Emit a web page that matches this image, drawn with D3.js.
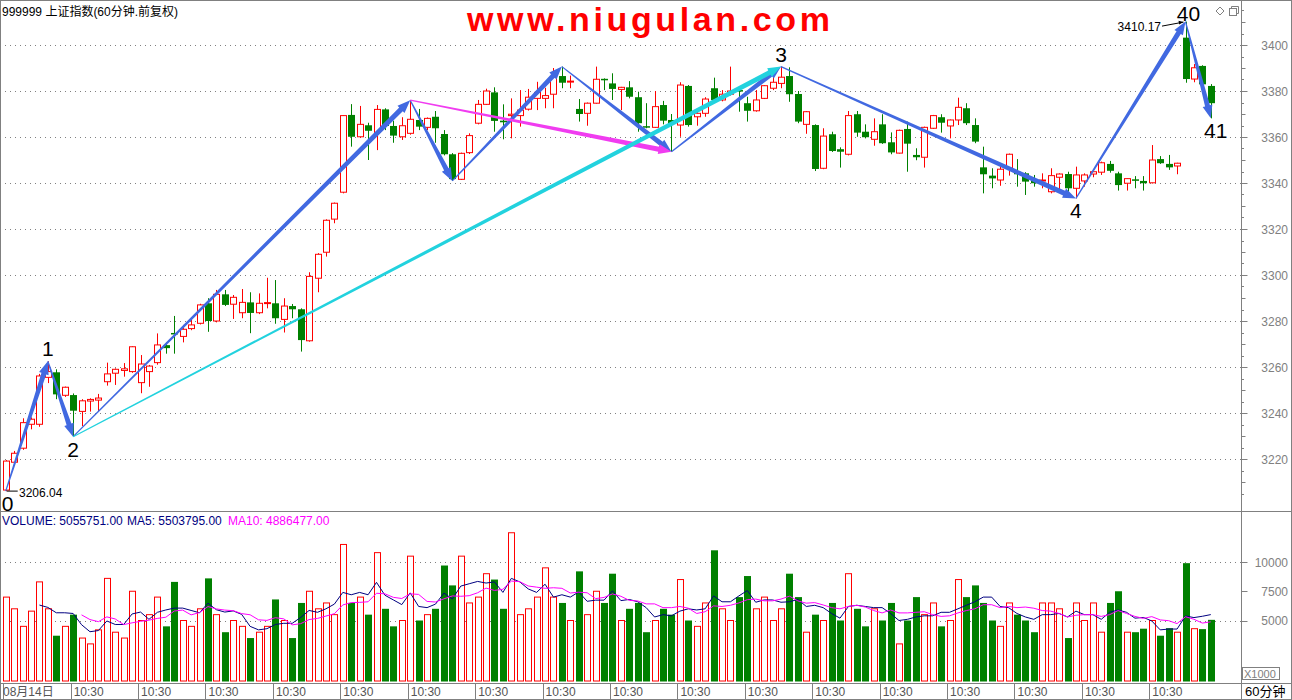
<!DOCTYPE html>
<html><head><meta charset="utf-8">
<script src="https://cdn.jsdelivr.net/npm/d3@7"></script>
<style>
body{margin:0;background:#fff}
svg{display:block}
text{font-family:"Liberation Sans",Arial,"Noto Sans CJK SC",sans-serif}
</style></head>
<body><svg id="c" width="1292" height="700"></svg>
<script>
// ---------- DATA ----------
const opens=[3206.5,3218.6,3224.7,3235.1,3235.1,3255.5,3257.7,3247.7,3247.8,3240.7,
3245.2,3245.6,3253.6,3257.3,3258.5,3258,3253.2,3258,3261.9,3269.5,
3274.8,3273.3,3276.7,3279,3287.7,3280,3291.6,3287.3,3283.6,3288.1,
3283.6,3287.6,3287.7,3280.7,3286.5,3285.1,3271.4,3298.6,3309.9,3324.3,
3336,3369.6,3360.1,3365.1,3362,3372,3364.8,3360.1,3361.6,3367.4,
3364.2,3368.8,3361.3,3352.5,3341.6,3353.2,3366,3374.2,3379.4,3367.1,
3369.3,3369.3,3372.1,3376.8,3376.8,3378.6,3386.5,3383.9,3372.2,3370.3,
3374.7,3385.3,3383.3,3380.7,3381.6,3377.3,3364.7,3364.2,3373.9,3367.4,
3365.2,3382.2,3368.8,3370.3,3381.2,3376.1,3378.6,3380.4,3374.7,3371.4,
3376.8,3381.2,3383.3,3386.5,3378.7,3365.5,3365.2,3346.4,3361.2,3354.7,
3352.5,3369.9,3362.3,3359,3365.5,3357.7,3353,3363.5,3352.2,3351.2,
3363.8,3368.6,3364.8,3367.4,3372.5,3365.2,3346.8,3343.2,3341.3,3346.4,
3344.9,3344.2,3341.3,3340.9,3336.2,3342.5,3343.9,3337.7,3340.9,3343.9,
3344.7,3348.3,3344.2,3339.9,3341.6,3340.9,3340.1,3350.4,3348.3,3347.4,
3403.2,3385.2,3390.9,3382.2];
const highs=[3219.5,3223.5,3237.7,3238.1,3257,3262.5,3259,3251.5,3248.5,3246,
3246.4,3248.3,3261.9,3259.4,3261.7,3269,3265.2,3260.9,3274.6,3270.7,
3282.2,3278.3,3281.6,3287.5,3289.9,3293.5,3293.5,3291.3,3293.9,3292.5,
3292,3298.8,3297.8,3289.9,3287.4,3285.5,3301.2,3309.5,3324.2,3331.5,
3369.5,3374.3,3373.5,3366.2,3373.9,3372.5,3367.1,3368.6,3376,3372.2,
3368.5,3371.3,3363,3353,3353.2,3361.6,3376.1,3381,3381.6,3374.2,
3376.8,3380.4,3380.9,3384,3381.4,3390,3390.6,3386.7,3376.5,3375,
3390.6,3385.5,3387.7,3381.8,3384.3,3379.7,3374.7,3380,3375.7,3370,
3383.8,3382.6,3371.7,3377.3,3385.8,3380.4,3390.6,3381.2,3377.5,3380.4,
3382.5,3386.5,3390.6,3390.3,3380,3371.3,3365.5,3363.8,3362.3,3355.5,
3371.3,3371.3,3365.5,3368.1,3369.9,3362,3363.2,3366.7,3355.1,3364.5,
3369.6,3369.9,3367.6,3377.1,3374.7,3368.1,3355.8,3346.4,3347.8,3352.8,
3350.4,3344.7,3343.5,3344.2,3346.4,3344.2,3344.9,3347.1,3344.2,3346,
3349.3,3349.6,3344.9,3342,3343,3343,3356.5,3351.7,3352.2,3348.8,
3410.17,3391.7,3391.2,3383];
const lows=[3206.04,3218,3224,3232.9,3234,3253,3246,3247,3229.7,3234.3,
3240.6,3240.6,3251.9,3252.2,3255.8,3257.5,3248.6,3251.4,3261,3265.8,
3265.8,3270.7,3276,3278.5,3275.3,3279.4,3286.5,3280.9,3281.2,3274.7,
3283,3285.5,3278.8,3275,3281.2,3266.7,3271,3292.5,3308,3322.5,
3335.5,3355.8,3359.7,3350,3354.3,3363,3357.5,3358.7,3361,3363,
3363,3357.5,3352,3340.9,3341.3,3352.6,3365.5,3374,3362.3,3359,
3359.4,3364.5,3371.5,3371.7,3372.5,3372.5,3381.2,3381.2,3366.7,3364.9,
3374.5,3380.4,3376.1,3371.7,3376.8,3362.3,3363.8,3364,3365.5,3353.6,
3360.1,3364.5,3364.9,3368.8,3375,3375.5,3378,3371,3366.7,3371,
3376.5,3380.4,3381.2,3375.3,3366,3361.4,3345.2,3346,3353.5,3346.7,
3352,3360.1,3359.4,3356.2,3357,3352.5,3352.8,3344.9,3349.9,3346.7,
3363.5,3361.9,3359.4,3365.2,3365.2,3357.3,3335.5,3337.7,3338.8,3343.2,
3338.4,3334.8,3338.4,3337.7,3335.5,3336.7,3334.5,3333.3,3338.4,3342.5,
3343.5,3344.5,3336.7,3336.7,3337.7,3336.7,3339.8,3348.3,3345.7,3343.8,
3383.6,3383.8,3382.5,3368.1];
const closes=[3219.1,3222.5,3235.8,3237.3,3256.1,3258,3248.1,3251.2,3241,3245.3,
3245.9,3246.5,3257,3259,3259.2,3268.8,3261.3,3260.4,3269.6,3268.2,
3274.2,3276.4,3278.3,3287,3280,3291.6,3287,3290.3,3288.1,3283.5,
3287.7,3288,3281.2,3286.5,3285.1,3271.7,3299.4,3309,3323.8,3331.2,
3369.3,3360.1,3365.5,3362.7,3372,3364.8,3360.6,3364.9,3367.7,3364.5,
3368.1,3363.8,3352.5,3341.7,3352.9,3360.6,3374.2,3380,3367,3366.4,
3369.9,3371.7,3377.3,3379.4,3378,3386,3383.6,3384.3,3370,3374.7,
3385.1,3384.9,3380.9,3381.6,3377.5,3366,3364.3,3373.2,3367.1,3365.7,
3382.6,3365.2,3370.3,3376.5,3376.1,3378.6,3380,3379.8,3371.4,3376.1,
3382.3,3383.8,3386,3378.6,3366.7,3371,3346.1,3360.4,3353.9,3353.6,
3369.3,3361.9,3359.9,3362.3,3357.3,3353.3,3362.9,3357.1,3351.2,3364.2,
3369.3,3366.2,3367.4,3372.9,3366,3358,3343.8,3342,3346,3352.5,
3343.8,3340.6,3339.9,3341.3,3343.2,3343.9,3337.7,3343.5,3343.5,3344.9,
3348.8,3345.3,3339.1,3341.9,3341,3339.9,3350,3348.6,3346.8,3348.6,
3385.2,3390.1,3382.9,3374.7];
// volume, in thousands of lots (X1000)
const volumes=[7000,6000,4500,5800,8300,6000,3700,4500,5500,3500,
3000,4200,8600,4000,3500,7500,5000,5500,7000,4500,
8300,5000,4500,6000,8600,5500,4000,5000,4500,3500,
4000,4500,6800,5000,3500,6500,7500,6000,6500,5500,
11500,6500,7000,5500,10800,6000,4500,5000,10500,5000,
5500,6000,9700,8000,10500,6500,7000,9000,8500,6000,
12500,5500,6000,7000,9500,7000,6500,5000,9200,5500,
7500,6500,9000,5000,6000,6500,4000,5000,6000,5500,
8500,5000,4500,6500,11000,6000,5000,7000,8800,6000,
7000,5000,6000,9000,7000,4000,5500,5000,6500,5000,
9000,6000,4500,6000,5000,6500,3000,5000,7000,5500,
6500,4500,5000,8500,7000,8000,6500,5000,4500,6500,
5500,5000,4000,6500,6500,6000,3500,6500,5000,6500,
4000,6500,7500,4000,4000,4300,5000,3700,4346,4000,
9900,4300,4263,5056];
const timeLabels=["08月14日","10:30","10:30","10:30","10:30","10:30","10:30","10:30","10:30",
"10:30","10:30","10:30","10:30","10:30","10:30","10:30","10:30","10:30"];
const priceTicks=[3220,3240,3260,3280,3300,3320,3340,3360,3380,3400];
const volTicks=[5000,7500,10000];
const volGrid=[5000,10000];
// wave (zigzag) pivots: bar index and price
const waveIdx=[0,5,8,48,53,66,79,92,127,140,143];
const waveVal=[3206.04,3262.5,3229.7,3376,3340.9,3390.6,3353.6,3390.6,3333.3,3410.17,3368.1];
// arrows: [fromPivot, toPivot, colour key]
const waveArrows=[[0,1,"b"],[1,2,"b"],[2,3,"b"],[3,4,"b"],[4,5,"b"],[5,6,"b"],[6,7,"b"],
[3,6,"m"],[2,7,"c"],[7,8,"b"],[8,9,"b"],[9,10,"b"]];
const waveLabels=["0","1","2","3","4","40","41"];
const waveLabelPivot=[0,1,2,7,8,9,10];
const waveLabelDir=[1,-1,1,-1,1,-1,1]; // -1 above, 1 below

// ---------- SCALES ----------
const svg=d3.select("#c");
const W=1292,H=700,axisX=1241.5,panelSplit=511.5,timeTop=683.5;
const n=opens.length;
const xb=d3.scaleBand().domain(d3.range(n)).range([1.5,1215]);
const cx=i=>xb(i)+xb.bandwidth()/2;
const y=d3.scaleLinear().domain([3200,3420]).range([505,-1]);
const yv=d3.scaleLinear().domain([0,10000]).range([679,562]);
const RED="#ff0000",GREEN="#008000",GRAY="#808080";
const colors={b:"#4169e1",m:"#f03cf0",c:"#22d2de"};

// ---------- FRAME ----------
svg.append("rect").attr("x",0.5).attr("y",0.5).attr("width",W-1).attr("height",H-1)
 .attr("fill","#fff").attr("stroke",GRAY);
svg.append("line").attr("x1",axisX).attr("x2",axisX).attr("y1",0).attr("y2",H).attr("stroke",GRAY);
svg.append("line").attr("x1",0).attr("x2",W).attr("y1",panelSplit).attr("y2",panelSplit).attr("stroke",GRAY);
svg.append("line").attr("x1",0).attr("x2",W).attr("y1",timeTop).attr("y2",timeTop).attr("stroke",GRAY);

// price grid + axis
svg.selectAll(".pg").data(priceTicks).join("line")
 .attr("x1",0).attr("x2",axisX).attr("y1",d=>Math.round(y(d))+0.5).attr("y2",d=>Math.round(y(d))+0.5)
 .attr("stroke",GRAY).attr("stroke-dasharray","1,4");
svg.selectAll(".pt").data(d3.range(3205,3420,5)).join("line")
 .attr("x1",axisX).attr("x2",d=>axisX+(d%20===0?6:(d%10===0?4:2.5)))
 .attr("y1",d=>Math.round(y(d))+0.5).attr("y2",d=>Math.round(y(d))+0.5).attr("stroke",GRAY);
svg.selectAll(".pl").data(priceTicks).join("text")
 .attr("x",1288).attr("y",d=>y(d)+4.5).attr("text-anchor","end").attr("font-size",12).attr("fill",GRAY).text(d=>d);

// volume grid + axis
svg.selectAll(".vg").data(volGrid).join("line")
 .attr("x1",0).attr("x2",axisX).attr("y1",d=>Math.round(yv(d))+0.5).attr("y2",d=>Math.round(yv(d))+0.5)
 .attr("stroke",GRAY).attr("stroke-dasharray","1,4");
svg.selectAll(".vt").data(volTicks).join("line")
 .attr("x1",axisX).attr("x2",axisX+6).attr("y1",d=>Math.round(yv(d))+0.5).attr("y2",d=>Math.round(yv(d))+0.5).attr("stroke",GRAY);
svg.selectAll(".vl").data(volTicks).join("text")
 .attr("x",1288).attr("y",d=>yv(d)+4.5).attr("text-anchor","end").attr("font-size",12).attr("fill",GRAY).text(d=>d);
svg.append("rect").attr("x",1242.5).attr("y",667.5).attr("width",37).attr("height",12).attr("fill","none").attr("stroke",GRAY);
svg.append("text").attr("x",1244).attr("y",677.5).attr("font-size",11).attr("fill",GRAY).text("X1000");
svg.append("text").attr("x",1245).attr("y",696).attr("font-size",13).attr("fill","#000").text("60分钟");

// time axis
const labelIdx=timeLabels.map((d,k)=>k*8);
svg.selectAll(".td").data(labelIdx).join("line")
 .attr("x1",d=>Math.round(cx(d)-2.5)+0.5).attr("x2",d=>Math.round(cx(d)-2.5)+0.5)
 .attr("y1",timeTop).attr("y2",H).attr("stroke",GRAY);
svg.selectAll(".tl").data(timeLabels).join("text")
 .attr("x",(d,k)=>k===0?3:cx(labelIdx[k])+0.5).attr("y",696).attr("font-size",12).attr("fill","#555").text(d=>d);

// ---------- CANDLES ----------
const bw=6;
const g=svg.append("g");
d3.range(n).forEach(i=>{
  const up=closes[i]>=opens[i];
  const x=Math.round(cx(i));
  const top=y(Math.max(opens[i],closes[i])), bot=y(Math.min(opens[i],closes[i]));
  const col=up?RED:GREEN;
  g.append("line").attr("x1",x+0.5).attr("x2",x+0.5).attr("y1",y(highs[i])).attr("y2",y(lows[i]))
   .attr("stroke",col);
  if(up){
    g.append("rect").attr("x",x-bw/2+0.5).attr("y",top).attr("width",bw).attr("height",Math.max(1,bot-top))
     .attr("fill","#fff").attr("stroke",RED);
  } else {
    g.append("rect").attr("x",x-bw/2).attr("y",top).attr("width",bw+1).attr("height",Math.max(1.5,bot-top))
     .attr("fill",GREEN);
  }
});

// ---------- VOLUME ----------
const vg=svg.append("g");
d3.range(n).forEach(i=>{
  const up=closes[i]>=opens[i];
  const x=Math.round(cx(i));
  const t=yv(volumes[i]), b=yv(0)+2;
  if(up) vg.append("rect").attr("x",x-3+0.5).attr("y",t).attr("width",6).attr("height",b-t)
     .attr("fill","#fff").attr("stroke",RED);
  else vg.append("rect").attr("x",x-3).attr("y",t).attr("width",7).attr("height",b-t+0.5).attr("fill",GREEN);
});
const ma=(k)=>d3.range(k-1,n).map(i=>[cx(i),yv(d3.mean(volumes.slice(i-k+1,i+1)))]);
svg.append("path").attr("d",d3.line()(ma(5))).attr("fill","none").attr("stroke","#000080").attr("stroke-width",1);
svg.append("path").attr("d",d3.line()(ma(10))).attr("fill","none").attr("stroke","#ff00ff").attr("stroke-width",1);

svg.append("text").attr("x",2).attr("y",525).attr("font-size",12).attr("fill","#000080").text("VOLUME: 5055751.00");
svg.append("text").attr("x",127).attr("y",525).attr("font-size",12).attr("fill","#000080").text("MA5: 5503795.00");
svg.append("text").attr("x",228).attr("y",525).attr("font-size",12).attr("fill","#ff00ff").text("MA10: 4886477.00");

// ---------- WAVE ARROWS ----------
function arrowPoly(x1,y1,x2,y2,w0,w1,hl,hw){
  const dx=x2-x1,dy=y2-y1,L=Math.hypot(dx,dy),ux=dx/L,uy=dy/L,nx=-uy,ny=ux;
  const bx=x2-ux*hl,by=y2-uy*hl;
  return [[x1+nx*w0/2,y1+ny*w0/2],[bx+nx*w1/2,by+ny*w1/2],[bx+nx*hw/2,by+ny*hw/2],[x2,y2],
          [bx-nx*hw/2,by-ny*hw/2],[bx-nx*w1/2,by-ny*w1/2],[x1-nx*w0/2,y1-ny*w0/2]];
}
const ag=svg.append("g");
waveArrows.forEach(([a,b,c])=>{
  const p=arrowPoly(cx(waveIdx[a]),y(waveVal[a]),cx(waveIdx[b]),y(waveVal[b]),1.2,5,13,10);
  ag.append("path").attr("d","M"+p.map(q=>q.join(",")).join("L")+"Z").attr("fill",colors[c]);
});
// wave labels
svg.selectAll(".wl").data(waveLabels).join("text")
 .attr("x",(d,k)=>cx(waveIdx[waveLabelPivot[k]])+(k===0?2:(k===6?5:(k===5?3:0))))
 .attr("y",(d,k)=>{const v=y(waveVal[waveLabelPivot[k]]);
    if(k===5) return v-1;
    return waveLabelDir[k]<0?v-5:v+20;})
 .attr("text-anchor","middle").attr("font-size",21).attr("fill","#000").text(d=>d);

// price annotations
const lowY=y(waveVal[0]);
svg.append("line").attr("x1",cx(0)+1).attr("x2",cx(0)+12).attr("y1",lowY).attr("y2",lowY).attr("stroke","#000");
svg.append("text").attr("x",19).attr("y",lowY+5.5).attr("font-size",12).attr("fill","#000").text("3206.04");
const hiY=y(waveVal[9]), hiX=cx(waveIdx[9]);
svg.append("text").attr("x",1161).attr("y",hiY+9.5).attr("text-anchor","end").attr("font-size",12).attr("fill","#000").text("3410.17");
svg.append("line").attr("x1",1162).attr("y1",hiY+4.5).attr("x2",hiX-2).attr("y2",hiY+0.5).attr("stroke","#000");
svg.append("path").attr("d",`M${hiX-2},${hiY+0.5}L${hiX-7},${hiY-0.8}L${hiX-6.3},${hiY+3}Z`).attr("fill","#000");

// ---------- TITLES ----------
svg.append("text").attr("x",2).attr("y",16).attr("font-size",12).attr("fill","#000")
 .attr("font-family","\"Noto Sans CJK SC\",sans-serif").text("999999 上证指数(60分钟.前复权)");
svg.append("text").attr("x",467).attr("y",31).attr("font-size",34).attr("font-weight","bold")
 .attr("fill","#ff0000").attr("textLength",363).attr("lengthAdjust","spacing").text("www.niugulan.com");
// window icons
svg.append("path").attr("d","M1220,7L1224,11L1220,15L1216,11Z").attr("fill","none").attr("stroke",GRAY);
svg.append("rect").attr("x",1229.5).attr("y",8.5).attr("width",7).attr("height",7).attr("fill","none").attr("stroke",GRAY);
svg.append("path").attr("d","M1231.5,8.5V6.5H1238.5V13.5H1236.5").attr("fill","none").attr("stroke",GRAY);
</script>
</body></html>
